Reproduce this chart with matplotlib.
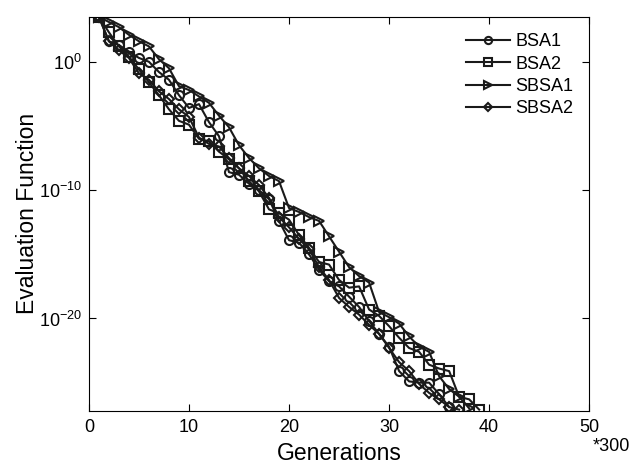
import numpy as np
import matplotlib
matplotlib.use('Agg')
import matplotlib.pyplot as plt

plt.rcParams['font.family'] = ['Liberation Sans', 'DejaVu Sans']
plt.rcParams['mathtext.fontset'] = 'custom'
plt.rcParams['mathtext.rm'] = 'Liberation Sans'
plt.rcParams['mathtext.it'] = 'Liberation Sans'

# log10 of evaluation function, one value per generation (x300)
bsa1_log = [3.5, 1.6, 1.3, 0.8, 0.3, 0.0, -0.8, -1.4, -2.6, -3.6,
            -3.3, -4.7, -5.8, -8.6, -8.8, -9.5, -10.0, -10.7, -12.4, -13.9,
            -14.1, -15.0, -16.2, -17.1, -17.5, -18.3, -19.1, -20.2, -21.2, -22.2,
            -24.1, -24.9, -25.0, -25.0, -25.9, -26.9]
bsa2_log = [3.5, 2.3, 1.2, 0.4, -0.6, -1.6, -2.6, -3.7, -4.6, -4.9,
            -6.0, -6.2, -7.0, -7.6, -8.3, -9.3, -10.1, -11.5, -11.8, -12.3,
            -13.5, -14.5, -15.6, -15.8, -17.0, -17.6, -17.5, -19.3, -19.8, -20.6,
            -21.5, -22.3, -22.6, -23.6, -23.9, -24.1, -26.1, -26.3, -27.1]
sbsa1_log = [3.5, 3.1, 2.7, 2.1, 1.6, 1.2, 0.2, -0.5, -1.9, -2.2,
             -2.7, -3.2, -4.2, -5.1, -6.5, -7.5, -8.3, -8.9, -9.3, -11.4,
             -11.7, -12.1, -12.4, -13.6, -14.8, -16.0, -16.7, -17.2, -19.5, -19.9,
             -20.4, -21.4, -22.2, -22.6, -24.5, -25.5, -26.1, -27.0]
sbsa2_log = [3.5, 1.6, 0.9, 0.3, -0.9, -1.4, -2.3, -2.9, -3.7, -4.3,
             -5.9, -6.4, -6.6, -7.5, -8.3, -8.9, -9.6, -10.6, -12.1, -12.9,
             -13.8, -14.6, -16.0, -17.0, -18.4, -19.1, -19.7, -20.5, -21.2, -22.3,
             -23.4, -24.1, -25.1, -25.8, -26.3, -26.9, -27.1]

series = [
    ('BSA1', bsa1_log, 'o', 6.5),
    ('BSA2', bsa2_log, 's', 6.5),
    ('SBSA1', sbsa1_log, '>', 7.5),
    ('SBSA2', sbsa2_log, 'D', 5.5),
]

fig = plt.figure(figsize=(6.44, 4.68), dpi=100)
ax = fig.add_axes([0.138, 0.122, 0.777, 0.842])

for name, vals, mk, ms in series:
    x = np.arange(1, len(vals) + 1)
    y = 10.0 ** np.array(vals)
    ax.semilogy(x, y, color='#1a1a1a', lw=1.5, marker=mk, ms=ms,
                mfc='none', mec='#1a1a1a', mew=1.5, label=name)

ax.set_xlim(0, 50)
ax.set_ylim(10 ** -27.2, 10 ** 3.5)
ax.set_xticks([0, 10, 20, 30, 40, 50])
ax.set_yticks([1e0, 1e-10, 1e-20])
ax.set_yticklabels(['$10^{0}$', '$10^{-10}$', '$10^{-20}$'])
ax.minorticks_off()
ax.tick_params(direction='in', top=True, right=True, labelsize=13, length=5)
ax.tick_params(axis='x', pad=6)
ax.tick_params(axis='y', pad=5)

ax.set_xlabel('Generations', fontsize=16.5, labelpad=4)
ax.set_ylabel('Evaluation Function', fontsize=16.5, labelpad=6)
ax.yaxis.set_label_coords(-0.1, 0.5)
fig.text(0.979, 0.045, '*300', fontsize=13, ha='right', va='center')

leg = ax.legend(loc='upper right', frameon=False, fontsize=13, handlelength=2.4,
                handletextpad=0.3, labelspacing=0.3, borderaxespad=0.5,
                markerscale=0.8)

fig.savefig('out.png', dpi=100)
